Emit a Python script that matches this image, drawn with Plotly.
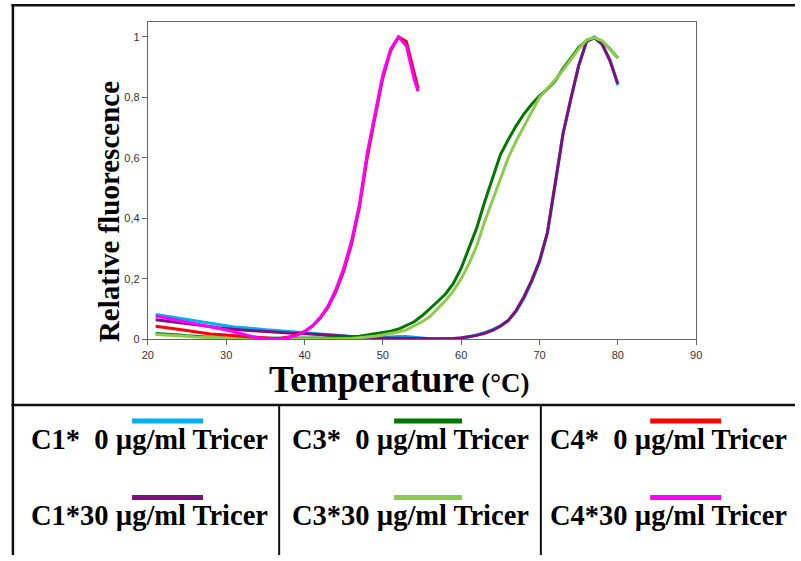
import plotly.graph_objects as go

# ---------------- data ----------------
T_c1 = list(range(21, 81))
c1_0 = [0.082, 0.078, 0.074, 0.070, 0.066, 0.062, 0.057, 0.053, 0.048, 0.044,
        0.041, 0.039, 0.036, 0.034, 0.032, 0.030, 0.028, 0.027, 0.025, 0.023,
        0.021, 0.019, 0.016, 0.014, 0.012, 0.009, 0.006, 0.005, 0.005, 0.006,
        0.008, 0.009, 0.009, 0.006, 0.003, 0.002, 0.002, 0.002, 0.003, 0.004,
        0.008, 0.014, 0.022, 0.032, 0.045, 0.062, 0.092, 0.135, 0.19, 0.255,
        0.35, 0.51, 0.68, 0.795, 0.905, 0.985, 1.0, 0.975, 0.925, 0.84]
c1_30 = [0.065, 0.062, 0.058, 0.055, 0.052, 0.048, 0.045, 0.042, 0.038, 0.035,
         0.033, 0.031, 0.029, 0.027, 0.025, 0.023, 0.022, 0.021, 0.020, 0.019,
         0.017, 0.016, 0.014, 0.013, 0.011, 0.008, 0.005, 0.004, 0.004, 0.004,
         0.005, 0.005, 0.005, 0.004, 0.003, 0.002, 0.002, 0.002, 0.003, 0.005,
         0.008, 0.013, 0.020, 0.030, 0.043, 0.062, 0.095, 0.14, 0.195, 0.26,
         0.353, 0.51, 0.68, 0.796, 0.905, 0.985, 0.997, 0.975, 0.92, 0.845]

T_c3 = list(range(21, 81))
c3_0 = [0.019, 0.018, 0.016, 0.014, 0.012, 0.010, 0.008, 0.006, 0.005, 0.004,
        0.003, 0.003, 0.002, 0.002, 0.002, 0.002, 0.002, 0.002, 0.002, 0.003,
        0.003, 0.004, 0.005, 0.006, 0.007, 0.008, 0.010, 0.014, 0.018, 0.022,
        0.027, 0.034, 0.045, 0.058, 0.078, 0.10, 0.125, 0.15, 0.185, 0.235,
        0.30, 0.37, 0.455, 0.53, 0.61, 0.66, 0.705, 0.745, 0.777, 0.805,
        0.828, 0.855, 0.895, 0.93, 0.965, 0.988, 0.997, 0.985, 0.96, 0.93]
c3_30 = [0.016, 0.015, 0.013, 0.012, 0.010, 0.008, 0.007, 0.006, 0.005, 0.004,
         0.003, 0.003, 0.002, 0.002, 0.002, 0.002, 0.002, 0.002, 0.002, 0.002,
         0.002, 0.002, 0.002, 0.002, 0.002, 0.003, 0.005, 0.007, 0.010, 0.014,
         0.018, 0.024, 0.031, 0.045, 0.058, 0.075, 0.10, 0.128, 0.16, 0.20,
         0.25, 0.31, 0.39, 0.46, 0.535, 0.60, 0.655, 0.705, 0.755, 0.80,
         0.83, 0.858, 0.89, 0.925, 0.96, 0.99, 0.998, 0.987, 0.96, 0.93]

T_c4 = list(range(21, 55)) + [54.5]
c4_0 = [0.043, 0.040, 0.036, 0.033, 0.029, 0.025, 0.021, 0.018, 0.016, 0.014,
        0.011, 0.009, 0.007, 0.005, 0.004, 0.003, 0.004, 0.008, 0.015, 0.026,
        0.044, 0.070, 0.106, 0.158, 0.225, 0.315, 0.435, 0.60, 0.735, 0.865,
        0.955, 1.0, 0.985, 0.885, 0.83]
c4_30 = [0.077, 0.072, 0.067, 0.063, 0.058, 0.053, 0.048, 0.043, 0.037, 0.031,
         0.025, 0.018, 0.011, 0.005, 0.001, 0.000, 0.001, 0.006, 0.013, 0.025,
         0.044, 0.072, 0.11, 0.165, 0.235, 0.325, 0.445, 0.615, 0.745, 0.875,
         0.96, 1.0, 0.97, 0.86, 0.82]

legend_labels = ["C1*\u00a0\u00a00 \u00b5g/ml Tricer", "C1*30 \u00b5g/ml Tricer",
                 "C3*\u00a0\u00a00 \u00b5g/ml Tricer", "C3*30 \u00b5g/ml Tricer",
                 "C4*\u00a0\u00a00 \u00b5g/ml Tricer", "C4*30 \u00b5g/ml Tricer"]
colors = ["#00B0F0", "#7F0F7F", "#007800", "#8CCB4C", "#FF0000", "#FF00FF"]

x_ticks = [20, 30, 40, 50, 60, 70, 80, 90]
y_ticks = [0, 0.2, 0.4, 0.6, 0.8, 1]

W, H = 801, 561


def px(x):
    return x / W


def py(y):
    return 1 - y / H


fig = go.Figure()
series = [(T_c1, c1_0), (T_c1, c1_30), (T_c3, c3_0), (T_c3, c3_30), (T_c4, c4_0), (T_c4, c4_30)]
for (t, v), c, name in zip(series, colors, legend_labels):
    fig.add_trace(go.Scatter(x=t, y=v, mode="lines", name=name,
                             line=dict(color=c, width=3), showlegend=False))

axis_common = dict(showline=True, linecolor="#666666", linewidth=1, mirror=True,
                   ticks="outside", ticklen=5, tickcolor="#666666", showgrid=False,
                   zeroline=False, tickfont=dict(family="Liberation Sans", size=11, color="#333333"))

fig.update_layout(
    width=W, height=H, margin=dict(l=0, r=0, t=0, b=0),
    paper_bgcolor="white", plot_bgcolor="white",
    separators=",.",
    xaxis=dict(range=[20, 90], tickvals=x_ticks, domain=[px(144), px(700.7)], **axis_common),
    yaxis=dict(range=[0, 1.05], tickvals=y_ticks, domain=[py(343), py(22)], **axis_common),
)

shapes = []
frame_col = "#111111"
# outer frame
shapes.append(dict(type="line", xref="paper", yref="paper", x0=px(5.5), x1=1.0, y0=py(5.3), y1=py(5.3),
                   line=dict(color=frame_col, width=2.5)))
shapes.append(dict(type="line", xref="paper", yref="paper", x0=px(7), x1=px(7), y0=py(4), y1=0,
                   line=dict(color=frame_col, width=2.5)))
# table separators
shapes.append(dict(type="line", xref="paper", yref="paper", x0=px(5.5), x1=1.0, y0=py(409.5), y1=py(409.5),
                   line=dict(color=frame_col, width=2.5)))
for xv in [277.3, 543]:
    shapes.append(dict(type="line", xref="paper", yref="paper", x0=px(xv), x1=px(xv), y0=py(409.5), y1=0,
                       line=dict(color=frame_col, width=2)))

# legend samples
sample_x = [(128, 200), (128, 200), (394, 463), (394, 463), (654, 726), (654, 726)]
sample_y = [425.5, 503, 425.5, 503, 425.5, 503]
for (x0, x1), yv, c in zip(sample_x, sample_y, colors):
    shapes.append(dict(type="line", xref="paper", yref="paper", x0=px(x0), x1=px(x1), y0=py(yv), y1=py(yv),
                       line=dict(color=c, width=5)))
fig.update_layout(shapes=shapes)

ann = []
text_right = [268, 268, 533, 533, 795, 795]
text_y = [444, 521, 444, 521, 444, 521]
for lab, xr, yv in zip(legend_labels, text_right, text_y):
    ann.append(dict(text="<b>" + lab + "</b>", xref="paper", yref="paper", x=px(xr), y=py(yv),
                    xanchor="right", yanchor="middle", showarrow=False,
                    font=dict(family="Liberation Serif", size=28.5, color="black")))

ann.append(dict(text="<b>Relative fluorescence</b>", xref="paper", yref="paper", x=px(104), y=py(214),
                xanchor="center", yanchor="middle", textangle=-90, showarrow=False,
                font=dict(family="Liberation Serif", size=29, color="black")))
ann.append(dict(text="<b>Temperature<span style='font-size:27px'> (\u00b0C)</span></b>", xref="paper", yref="paper",
                x=px(399), y=py(384), xanchor="center", yanchor="middle", showarrow=False,
                font=dict(family="Liberation Serif", size=37, color="black")))
fig.update_layout(annotations=ann)

fig.write_html("out.html")
